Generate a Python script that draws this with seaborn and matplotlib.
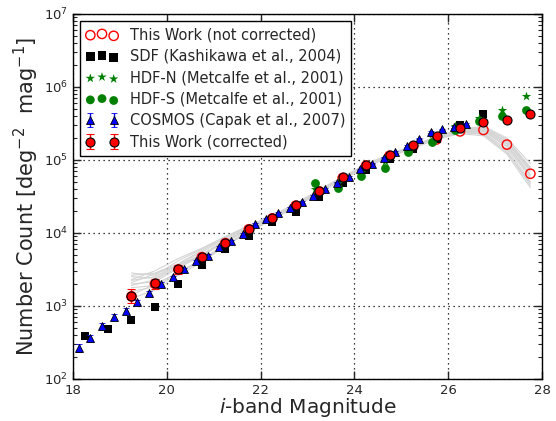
import numpy as np
import pandas as pd
import seaborn as sns
import matplotlib
matplotlib.use('Agg')
from matplotlib import pyplot as plt

sns.set_style("ticks")
plt.rcParams['font.family'] = ['DejaVu Sans']
plt.rcParams['mathtext.fontset'] = 'dejavusans'

# This Work (corrected / not corrected), 0.5 mag bins
tw_mag = [19.25, 19.75, 20.25, 20.75, 21.25, 21.75, 22.25, 22.75, 23.25,
          23.75, 24.25, 24.75, 25.25, 25.75, 26.25, 26.75, 27.25, 27.75]
tw_corr = [1380, 2040, 3210, 4730, 7360, 11350, 16030, 23990, 37580,
           57540, 85110, 117500, 158500, 213800, 275400, 335000, 346700, 431500]
tw_err = [300, 330, 450, 450, 500, 600, 700, 900, 1200,
          1600, 2000, 2500, 3000, 3500, 4000, 5000, 6000, 8000]
tw_raw = [1350, 2000, 3150, 4650, 7250, 11200, 15800, 23600, 37000,
          56500, 83500, 114000, 152000, 190500, 245500, 257000, 162000, 64600]

# SDF (Kashikawa et al., 2004)
sdf_mag = [18.25, 18.75, 19.25, 19.75, 20.25, 20.75, 21.25, 21.75, 22.25,
           22.75, 23.25, 23.75, 24.25, 24.75, 25.25, 25.75, 26.25, 26.75]
sdf_n = [389, 490, 646, 955, 1995, 3631, 6026, 9120, 14030,
         19500, 30900, 47860, 72440, 102300, 141300, 190500, 302000, 426600]

# HDF-N / HDF-S (Metcalfe et al., 2001)
hdf_mag = [23.15, 23.65, 24.15, 24.65, 25.15, 25.65, 26.15, 26.65, 27.15, 27.65]
hdfn_n = [39810, 47860, 69180, 95500, 134900, 223900, 295100, 371500, 484200, 753300]
hdfs_n = [48980, 40740, 60260, 77620, 127400, 177800, 257000, 338800, 393600, 489800]

# COSMOS (Capak et al., 2007)
cos_mag = [18.125, 18.375, 18.625, 18.875, 19.125, 19.375, 19.625, 19.875,
           20.125, 20.375, 20.625, 20.875, 21.125, 21.375, 21.625, 21.875,
           22.125, 22.375, 22.625, 22.875, 23.125, 23.375, 23.625, 23.875,
           24.125, 24.375, 24.625, 24.875, 25.125, 25.375, 25.625, 25.875,
           26.125, 26.375]
cos_n = [266, 363, 537, 708, 861, 1122, 1514, 1995,
         2455, 3162, 4074, 4898, 6310, 7691, 9683, 13180,
         15490, 18620, 21880, 26920, 32360, 39810, 48980, 58880,
         74130, 89130, 107200, 128800, 154900, 195000, 239900, 263000,
         281800, 309000]
cos_err = [30, 38, 50, 60, 70, 85, 105, 130,
           150, 180, 220, 250, 300, 350, 420, 520,
           580, 660, 740, 850, 950, 1100, 1300, 1500,
           1800, 2100, 2500, 2900, 3400, 4200, 5000, 5500,
           6000, 6500]

# mock realisations (log10 counts)
mock_log = [
    [3.42, 3.45, 3.58, 3.76, 3.93, 4.08, 4.22, 4.39, 4.58, 4.76, 4.93, 5.07, 5.19, 5.31, 5.41, 5.44, 5.28, 4.90],
    [3.30, 3.33, 3.52, 3.69, 3.87, 4.05, 4.21, 4.38, 4.57, 4.75, 4.92, 5.06, 5.18, 5.30, 5.39, 5.40, 5.20, 4.78],
    [3.10, 3.22, 3.42, 3.60, 3.82, 4.02, 4.19, 4.36, 4.56, 4.74, 4.91, 5.05, 5.17, 5.29, 5.38, 5.37, 5.15, 4.70],
    [3.36, 3.48, 3.65, 3.79, 3.95, 4.10, 4.24, 4.40, 4.59, 4.77, 4.94, 5.08, 5.20, 5.32, 5.42, 5.46, 5.30, 4.95],
    [3.25, 3.28, 3.47, 3.63, 3.83, 4.03, 4.20, 4.37, 4.56, 4.74, 4.91, 5.05, 5.17, 5.29, 5.37, 5.36, 5.12, 4.65],
    [3.40, 3.38, 3.55, 3.71, 3.89, 4.06, 4.22, 4.39, 4.58, 4.75, 4.92, 5.06, 5.18, 5.30, 5.40, 5.42, 5.24, 4.84],
    [3.15, 3.30, 3.45, 3.62, 3.82, 4.01, 4.18, 4.36, 4.55, 4.73, 4.90, 5.04, 5.16, 5.28, 5.36, 5.33, 5.08, 4.62],
    [3.45, 3.42, 3.62, 3.78, 3.94, 4.09, 4.23, 4.40, 4.59, 4.76, 4.93, 5.07, 5.19, 5.31, 5.41, 5.45, 5.27, 4.88],
    [3.28, 3.36, 3.53, 3.70, 3.88, 4.05, 4.21, 4.38, 4.57, 4.75, 4.92, 5.06, 5.18, 5.30, 5.39, 5.39, 5.18, 4.75],
    [3.20, 3.26, 3.44, 3.64, 3.84, 4.03, 4.20, 4.37, 4.56, 4.74, 4.91, 5.05, 5.17, 5.29, 5.38, 5.35, 5.10, 4.68],
    [3.35, 3.40, 3.57, 3.74, 3.91, 4.07, 4.22, 4.39, 4.58, 4.76, 4.93, 5.07, 5.19, 5.31, 5.40, 5.43, 5.25, 4.86],
    [3.32, 3.44, 3.56, 3.70, 3.88, 4.06, 4.21, 4.38, 4.57, 4.75, 4.92, 5.06, 5.18, 5.30, 5.39, 5.41, 5.22, 4.80],
]

mock = pd.DataFrame([(k, m, 10 ** v) for k, row in enumerate(mock_log)
                     for m, v in zip(tw_mag, row)], columns=["run", "mag", "n"])

fig = plt.figure(figsize=(5.56, 4.21), dpi=100)
ax = fig.add_axes([0.131, 0.100, 0.844, 0.867])

sns.lineplot(data=mock, x="mag", y="n", units="run", estimator=None,
             color="#d4d4d4", lw=0.8, ax=ax, legend=False, zorder=1)

sns.scatterplot(x=tw_mag, y=tw_raw, marker="o", s=45, facecolor="none",
                edgecolor="r", linewidth=1.0, label="This Work (not corrected)", ax=ax, zorder=2)
sns.scatterplot(x=sdf_mag, y=sdf_n, marker="s", s=38, color="k", linewidth=0,
                label="SDF (Kashikawa et al., 2004)", ax=ax, zorder=3)
sns.scatterplot(x=hdf_mag, y=hdfn_n, marker="*", s=50, color="g", linewidth=0,
                label="HDF-N (Metcalfe et al., 2001)", ax=ax, zorder=3)
sns.scatterplot(x=hdf_mag, y=hdfs_n, marker="o", s=40, color="g", linewidth=0,
                label="HDF-S (Metcalfe et al., 2001)", ax=ax, zorder=3)
ax.errorbar(cos_mag, cos_n, yerr=cos_err, fmt="^", color="b", ms=5.5,
            mec="k", mew=0.6, ecolor="b", capsize=2.5, elinewidth=1,
            label="COSMOS (Capak et al., 2007)", zorder=4)
ax.errorbar(tw_mag, tw_corr, yerr=tw_err, fmt="o", color="r", ms=6.5,
            mec="k", mew=0.8, ecolor="r", capsize=3, elinewidth=1,
            label="This Work (corrected)", zorder=5)

ax.set_yscale("log")
ax.set_xlim(18, 28)
ax.set_ylim(1e2, 1e7)
ax.set_xticks([18, 20, 22, 24, 26, 28])
ax.grid(True, which="major", color="k", ls=(0, (1, 3)), lw=0.9)
ax.tick_params(which="both", direction="in", top=True, right=True, labelsize=9.5)
ax.tick_params(which="major", length=6, width=1)
ax.tick_params(which="minor", length=3, width=0.8)
ax.tick_params(axis="x", pad=4)
for sp in ax.spines.values():
    sp.set_color("k")
    sp.set_linewidth(1)

ax.set_xlabel("$i$-band Magnitude", fontsize=14.5, labelpad=-1)
ax.set_ylabel("Number Count [deg$^{-2}$  mag$^{-1}$]", fontsize=15, labelpad=2)

order = ["This Work (not corrected)", "SDF (Kashikawa et al., 2004)",
         "HDF-N (Metcalfe et al., 2001)", "HDF-S (Metcalfe et al., 2001)",
         "COSMOS (Capak et al., 2007)", "This Work (corrected)"]
h, l = ax.get_legend_handles_labels()
hd = dict(zip(l, h))
leg = ax.legend([hd[k] for k in order], order, loc="upper left",
                scatterpoints=3, numpoints=2, fontsize=10.5, fancybox=False,
                edgecolor="k", framealpha=1, borderaxespad=0.5,
                handlelength=2.2, labelspacing=0.45)
leg.get_frame().set_linewidth(1)

fig.savefig("out.png", dpi=100)
